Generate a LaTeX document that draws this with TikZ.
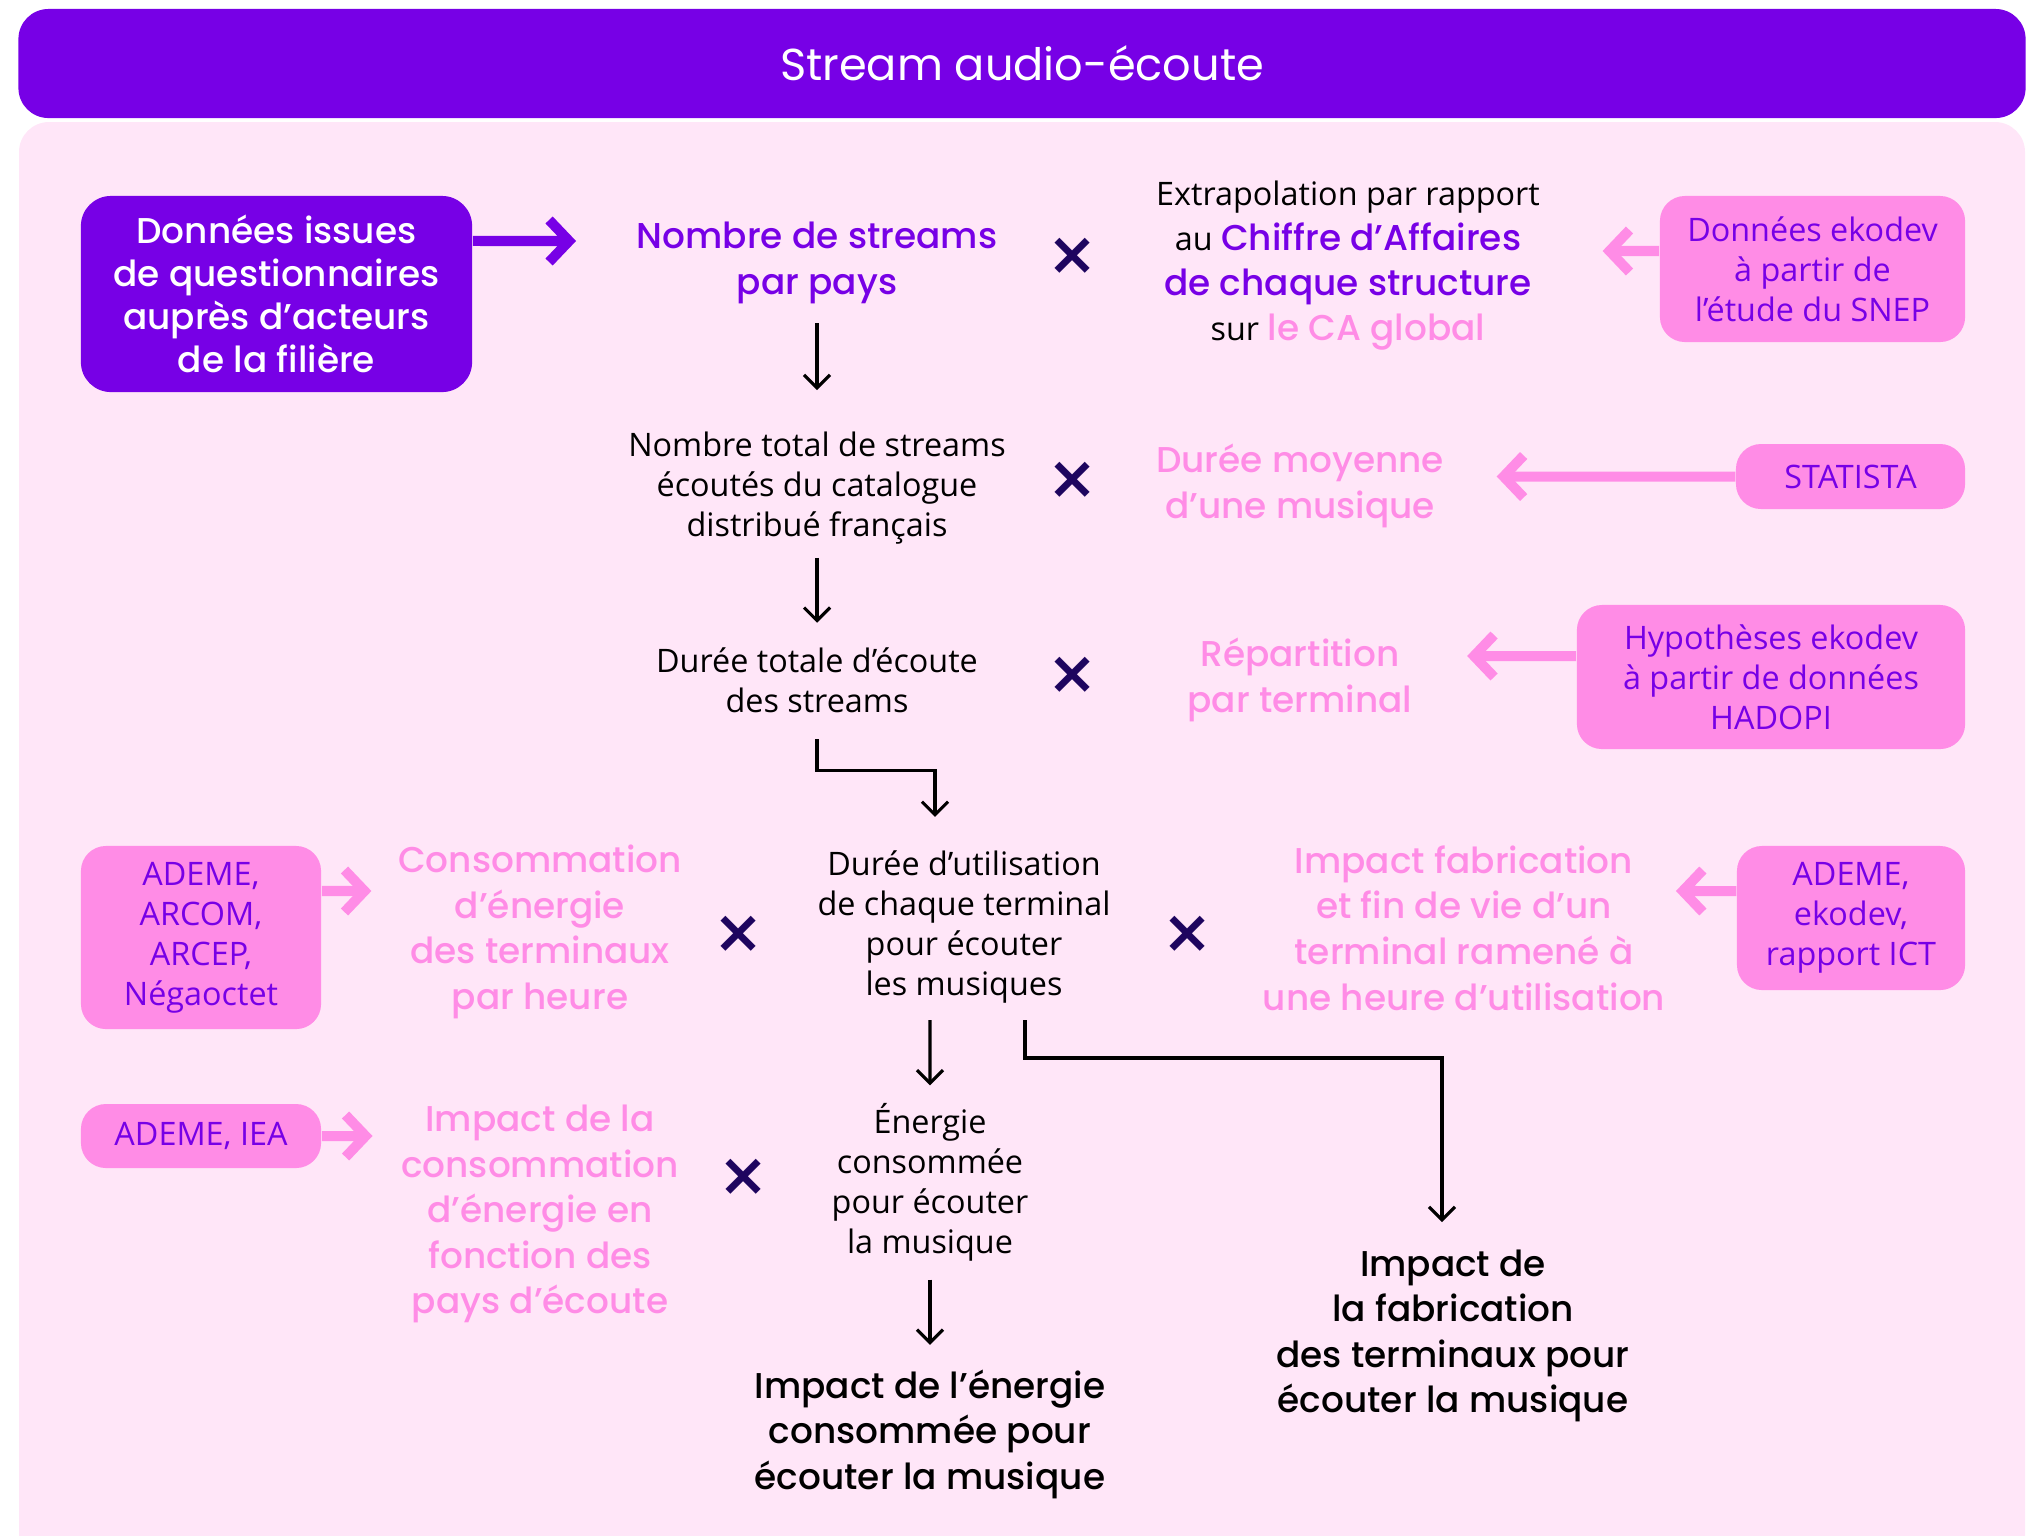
\documentclass[tikz,border=0pt]{standalone}
\usepackage{fontspec}
\setmainfont{Open Sans}
\newfontfamily\headfont{Poppins Medium}
\newfontfamily\titlefont{Poppins}
\newfontfamily\symfont{DejaVu Sans}
\usetikzlibrary{arrows.meta}

\definecolor{ekviolet}{RGB}{119,0,230}
\definecolor{ekpink}{RGB}{255,140,230}
\definecolor{ekrose}{RGB}{255,230,248}
\definecolor{eknavy}{RGB}{30,5,95}

\newcommand{\headtxt}[2]{{\headfont\fontsize{10.2}{12.8}\selectfont\color{#1}#2}}

\tikzset{
  bodytext/.style={align=center, inner sep=0pt, font=\fontsize{9.2}{11.38}\selectfont},
  headtext/.style={align=center, inner sep=0pt, font=\headfont\fontsize{10.2}{12.95}\selectfont},
  pinktext/.style={headtext, text=ekpink},
  srcbox/.style={bodytext, fill=ekpink, text=ekviolet, rounded corners=0.25cm},
  timesmark/.style={inner sep=0pt, text=eknavy, font=\symfont\bfseries\fontsize{17}{17}\selectfont},
  flowarrow/.style={line width=0.9pt, -{Straight Barb[length=0.13cm, width=0.26cm]}},
  srcarrow/.style={line width=2.85pt, ekpink, -{Straight Barb[length=0.2cm, width=0.42cm]}},
}

\begin{document}
\begin{tikzpicture}[x=0.01cm, y=-0.01cm]
  \useasboundingbox (0,0) rectangle (2040,1535);
  \fill[ekrose, rounded corners=0.3cm] (19,122) rectangle (2025,1565);
  \node[fill=ekviolet, rounded corners=0.3cm, minimum width=20.06cm, minimum height=1.09cm,
        text=white, font=\titlefont\fontsize{12.7}{15}\selectfont] (title) at (1022,63.5) {Stream audio-écoute};

  % main chain
  \node[headtext, text=ekviolet] (nbp) at (817,263) {Nombre de streams\\par pays};
  \node[bodytext] (tot) at (817,488) {Nombre total de streams\\écoutés du catalogue\\distribué français};
  \node[bodytext] (dur) at (817,680) {Durée totale d’écoute\\des streams};
  \node[bodytext] (util) at (964,927) {Durée d’utilisation\\de chaque terminal\\pour écouter\\les musiques};
  \node[bodytext] (energ) at (930,1182) {Énergie\\consommée\\pour écouter\\la musique};
  \node[headtext] (impE) at (930,1434) {Impact de l’énergie\\consommée pour\\écouter la musique};
  \node[headtext] (impF) at (1453,1336) {Impact de\\la fabrication\\des terminaux pour\\écouter la musique};

  % factors
  \node[bodytext, font=\fontsize{9.2}{12.8}\selectfont] (extra) at (1348,266)
    {Extrapolation par rapport\\au \headtxt{ekviolet}{Chiffre d’Affaires}\\\headtxt{ekviolet}{de chaque structure}\\sur \headtxt{ekpink}{le CA global}};
  \node[pinktext] (durmoy) at (1300,486) {Durée moyenne\\d’une musique};
  \node[pinktext] (repart) at (1300,680) {Répartition\\par terminal};
  \node[pinktext] (conso) at (540,932) {Consommation\\d’énergie\\des terminaux\\par heure};
  \node[pinktext] (impfab) at (1464,928) {Impact fabrication\\et fin de vie d’un\\terminal ramené à\\une heure d’utilisation};
  \node[pinktext] (impconso) at (540,1214) {Impact de la\\consommation\\d’énergie en\\fonction des\\pays d’écoute};

  \node[timesmark] (mul1) at (1073,256) {×};
  \node[timesmark] (mul2) at (1073,480) {×};
  \node[timesmark] (mul3) at (1073,675) {×};
  \node[timesmark] (mul4) at (739,934) {×};
  \node[timesmark] (mul5) at (1188,934) {×};
  \node[timesmark] (mul6) at (744,1177) {×};

  % sources
  \node[headtext, fill=ekviolet, text=white, rounded corners=0.3cm, minimum width=3.91cm, minimum height=1.96cm,
        font=\headfont\fontsize{10.2}{12.24}\selectfont] (quest) at (276.5,294)
    {Données issues\\de questionnaires\\auprès d’acteurs\\de la filière};
  \node[srcbox, minimum width=3.05cm, minimum height=1.46cm] (snep) at (1812.5,269) {Données ekodev\\à partir de\\l’étude du SNEP};
  \node[srcbox, minimum width=2.29cm, minimum height=0.65cm] (stat) at (1850.5,476.5) {STATISTA};
  \node[srcbox, minimum width=3.88cm, minimum height=1.44cm] (hadopi) at (1771,677) {Hypothèses ekodev\\à partir de données\\HADOPI};
  \node[srcbox, minimum width=2.40cm, minimum height=1.83cm] (arcom) at (201,937.5) {ADEME,\\ARCOM,\\ARCEP,\\Négaoctet};
  \node[srcbox, minimum width=2.28cm, minimum height=1.44cm] (ict) at (1851,918) {ADEME,\\ekodev,\\rapport ICT};
  \node[srcbox, minimum width=2.40cm, minimum height=0.64cm] (iea) at (201,1136) {ADEME, IEA};

  % source arrows
  \draw[srcarrow, ekviolet, shorten >=0.6cm] ([yshift=0.53cm]quest.east) -- ([yshift=0.22cm]nbp.west);
  \draw[srcarrow, shorten >=0.62cm] ([yshift=0.18cm]snep.west) -- ([yshift=0.15cm]extra.east);
  \draw[srcarrow, shorten >=0.52cm] (stat.west) -- ([yshift=0.095cm]durmoy.east);
  \draw[srcarrow, shorten >=0.54cm] ([yshift=0.21cm]hadopi.west) -- ([yshift=0.24cm]repart.east);
  \draw[srcarrow, shorten >=0.1cm] ([yshift=0.27cm]ict.west) -- ([yshift=0.37cm]impfab.east);
  \draw[srcarrow, shorten >=0.26cm] ([yshift=0.465cm]arcom.east) -- ([yshift=0.41cm]conso.west);
  \draw[srcarrow, shorten >=0.28cm] (iea.east) -- ([yshift=0.78cm]impconso.west);

  % flow
  \draw[flowarrow, shorten <=0.19cm, shorten >=0.41cm] (nbp) -- (tot);
  \draw[flowarrow, shorten <=0.13cm, shorten >=0.24cm] (tot) -- (dur);
  \draw[flowarrow, shorten <=0.26cm, shorten >=0.33cm] (dur.south) -- ++(0,57) -| ([xshift=-0.29cm]util.north);
  \draw[flowarrow, shorten <=0.16cm, shorten >=0.17cm] ([xshift=-0.34cm]util.south) -- (energ.north);
  \draw[flowarrow, shorten <=0.16cm, shorten >=0.27cm] ([xshift=0.61cm]util.south) -- ++(0,54) -| ([xshift=-0.11cm]impF.north);
  \draw[flowarrow, shorten <=0.18cm, shorten >=0.24cm] (energ) -- (impE);
\end{tikzpicture}
\end{document}
